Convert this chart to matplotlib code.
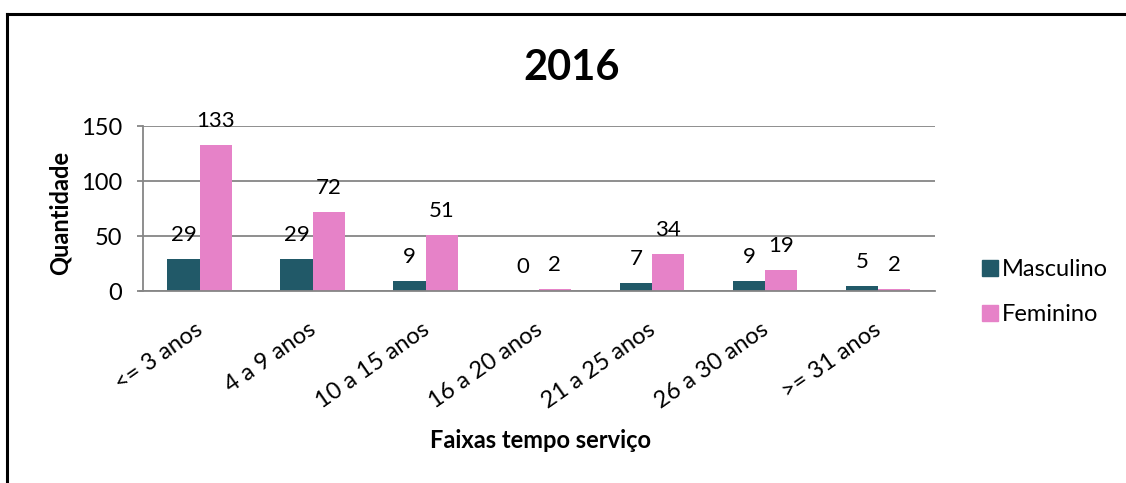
import numpy as np
import matplotlib
matplotlib.use("Agg")
import matplotlib.pyplot as plt
import matplotlib.transforms as mtransforms
from matplotlib.lines import Line2D

plt.rcParams['font.family'] = ['Lato', 'DejaVu Sans']

# dados
faixas = ['<= 3 anos', '4 a 9 anos', '10 a 15 anos', '16 a 20 anos',
          '21 a 25 anos', '26 a 30 anos', '>= 31 anos']
masculino = [29, 29, 9, 0, 7, 9, 5]
feminino = [133, 72, 51, 2, 34, 19, 2]

cor_masc = '#215968'
cor_fem = '#E682C8'
cinza = '#868686'

fig = plt.figure(figsize=(11.26, 4.83), dpi=100)
ax = fig.add_axes([0.127, 0.3975, 0.703, 0.3415])

x = np.arange(len(faixas))
w = 0.285
b1 = ax.bar(x - w / 2, masculino, w, color=cor_masc, label='Masculino')
b2 = ax.bar(x + w / 2, feminino, w, color=cor_fem, label='Feminino')

# rótulos de dados
for barras, vals in ((b1, masculino), (b2, feminino)):
    for r, v in zip(barras, vals):
        ax.annotate(str(v), (r.get_x() + r.get_width() / 2, v),
                    xytext=(0, 10), textcoords='offset points',
                    ha='center', va='bottom', fontsize=16)

ax.set_xlim(-0.5, len(faixas) - 0.5)
ax.set_ylim(0, 150)
ax.set_yticks([0, 50, 100, 150])
ax.yaxis.grid(True, color=cinza, linewidth=1.3)
ax.set_axisbelow(True)
for s in ['top', 'right']:
    ax.spines[s].set_visible(False)
for s in ['left', 'bottom']:
    ax.spines[s].set_color(cinza)
    ax.spines[s].set_linewidth(1.3)
ax.spines['bottom'].set_bounds(-0.53, len(faixas) - 0.5)

ax.set_xticks(x)
ax.set_xticklabels(faixas, rotation=35, ha='right', rotation_mode='anchor',
                   fontsize=17)
ax.tick_params(axis='x', length=0, pad=20)
desloc = mtransforms.ScaledTranslation(-5 / 100, 0, fig.dpi_scale_trans)
for lbl in ax.get_xticklabels():
    lbl.set_transform(lbl.get_transform() + desloc)
ax.tick_params(axis='y', length=4, color=cinza, width=1.3, labelsize=17, pad=11)

fig.text(0.508, 0.859, '2016', ha='center', va='center',
         fontsize=30, fontweight='bold')
fig.text(0.053, 0.559, 'Quantidade', rotation=90, ha='center', va='center',
         fontsize=17, fontweight='bold')
fig.text(0.48, 0.087, 'Faixas tempo serviço', ha='center', va='center',
         fontsize=17, fontweight='bold')

handles = [Line2D([], [], marker='s', linestyle='none', markersize=11,
                  color=cor_masc),
           Line2D([], [], marker='s', linestyle='none', markersize=11,
                  color=cor_fem)]
fig.legend(handles, ['Masculino', 'Feminino'], loc='center left',
           bbox_to_anchor=(0.852, 0.395), frameon=False, fontsize=17,
           handletextpad=0.1, labelspacing=1.0, handlelength=0.8)

# moldura do gráfico
fig.add_artist(Line2D([0.006, 0.006], [0, 0.972], color='black', lw=2.2,
                      transform=fig.transFigure))
fig.add_artist(Line2D([0.006, 1.0], [0.972, 0.972], color='black', lw=2.2,
                      transform=fig.transFigure))

fig.savefig('out.png', dpi=100)
